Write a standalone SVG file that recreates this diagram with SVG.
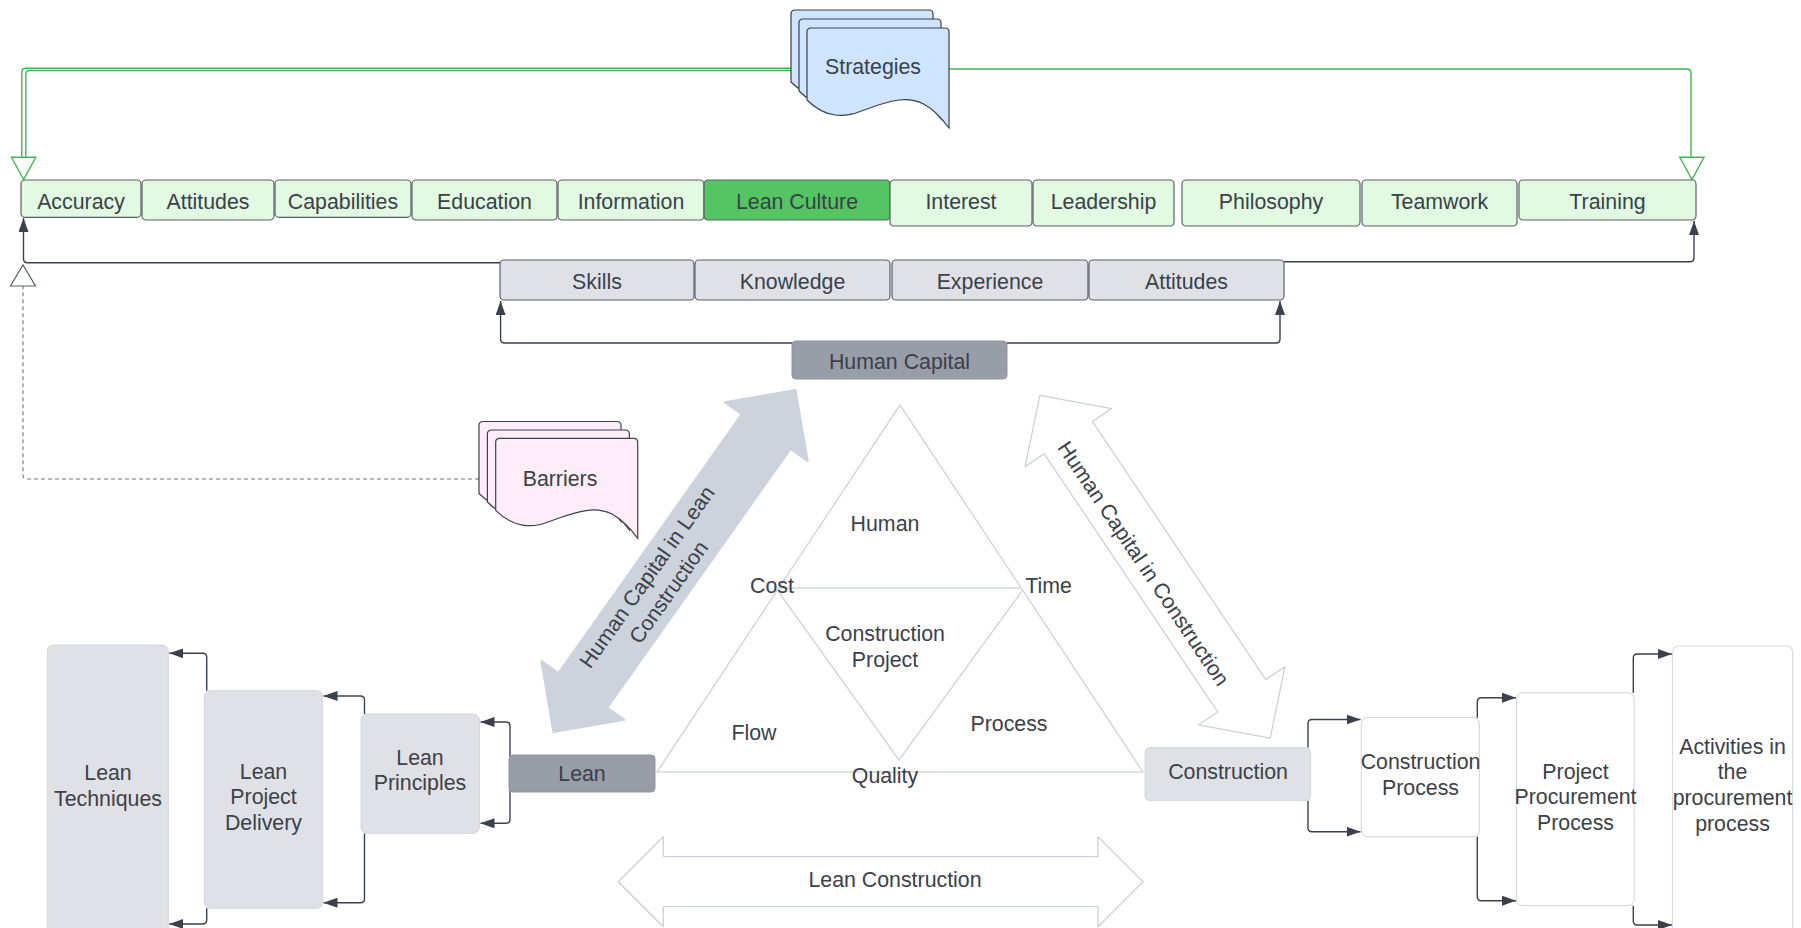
<svg xmlns="http://www.w3.org/2000/svg" width="1801" height="928" viewBox="0 0 1801 928">
  <style>
    .t { font-family: "Liberation Sans", Arial, sans-serif; font-size: 21.33px; fill: #3a414a; text-anchor: middle; }
    .top { fill: #e2f9e2; stroke: #5b6068; stroke-width: 1.2; }
    .hot { fill: #55c462; stroke: #5b6068; stroke-width: 1.2; }
    .hcap { fill: #dfe1e6; stroke: #5b6068; stroke-width: 1.2; }
    .dark { fill: #989da7; stroke: #8e939c; stroke-width: 1; }
    .grey { fill: #dfe1e6; stroke: #d3d6dc; stroke-width: 1; }
    .white { fill: #ffffff; stroke: #d8dbe0; stroke-width: 1.2; }
    .tri { fill: none; stroke: #d3d7de; stroke-width: 1.5; stroke-linejoin: round; }
    .outline { fill: #ffffff; stroke: #cdd1d8; stroke-width: 1.3; stroke-linejoin: round; }
    .wire { fill: none; stroke: #3a414a; stroke-width: 1.4; marker-end: url(#arr); }
    .green { fill: none; stroke: #45b552; stroke-width: 1.4; }
    .gtip { fill: #ffffff; stroke: #45b552; stroke-width: 1.4; }
    .dash { fill: none; stroke: #70767f; stroke-width: 1.1; stroke-dasharray: 4 3; }
    .htip { fill: #ffffff; stroke: #5b6068; stroke-width: 1.2; }
    .doc { stroke: #3a414a; stroke-width: 1.2; }
  </style>
  <defs>
    <marker id="arr" markerUnits="userSpaceOnUse" viewBox="0 0 14 10" refX="14" refY="5" markerWidth="14" markerHeight="10" orient="auto">
      <path d="M0,0 L14,5 L0,10 z" fill="#3a414a"/>
    </marker>
    <!-- document page with wavy bottom edge -->
    <path id="page" d="M0,4 Q0,0 4,0 H138 Q142,0 142,4 V100 C124,76 110,70 92,72 C62,76 50,90 28,87 C14,85 6,78 0,72 Z"/>
  </defs>
  <rect width="1801" height="928" fill="#ffffff"/>

  <!-- connectors -->
  <g id="connectors">
    <!-- strategies to the outer factor boxes -->
    <path class="green" d="M792,68.3 H25.8 Q21.8,68.3 21.8,72.3 V157"/>
    <path class="green" d="M792,70.5 H29.8 Q25.8,70.5 25.8,74.5 V157"/>
    <polygon class="gtip" points="11.5,157.3 35.8,157.3 23.6,179.5"/>
    <path class="green" d="M949,69 H1687 Q1691,69 1691,73 V157.3"/>
    <polygon class="gtip" points="1679.8,157.3 1704,157.3 1692,179.5"/>

    <!-- human capital row up to the factor boxes -->
    <path class="wire" d="M500,262.7 H27.5 Q23.5,262.7 23.5,258.7 V218"/>
    <path class="wire" d="M1284,261.7 H1690 Q1694,261.7 1694,257.7 V221"/>
    <path class="wire" d="M792,343 H504.6 Q500.6,343 500.6,339 V301"/>
    <path class="wire" d="M1007,343 H1276 Q1280,343 1280,339 V301"/>

    <!-- barriers -->
    <path class="dash" d="M479,479 H27 Q23,479 23,475 V286"/>
    <polygon class="htip" points="10.5,286 35.5,286 23,265"/>

    <!-- lean chain -->
    <path class="wire" d="M510,760 V726 Q510,722 506,722 H480.5"/>
    <path class="wire" d="M510,790 V819.3 Q510,823.3 506,823.3 H480.5"/>
    <path class="wire" d="M364.5,714 V700 Q364.5,696 360.5,696 H323.5"/>
    <path class="wire" d="M364.5,833.3 V898.7 Q364.5,902.7 360.5,902.7 H323.5"/>
    <path class="wire" d="M206.7,690.7 V657.3 Q206.7,653.3 202.7,653.3 H169.3"/>
    <path class="wire" d="M206.7,908.3 V920 Q206.7,924 202.7,924 H169.3"/>

    <!-- construction chain -->
    <path class="wire" d="M1308,747.7 V723.5 Q1308,719.5 1312,719.5 H1360.5"/>
    <path class="wire" d="M1308,800.7 V827.7 Q1308,831.7 1312,831.7 H1360.5"/>
    <path class="wire" d="M1477.3,717.7 V701.7 Q1477.3,697.7 1481.3,697.7 H1516"/>
    <path class="wire" d="M1477.3,836.7 V896.7 Q1477.3,900.7 1481.3,900.7 H1516"/>
    <path class="wire" d="M1633.3,692.7 V658 Q1633.3,654 1637.3,654 H1672"/>
    <path class="wire" d="M1633.3,905.7 V921 Q1633.3,925 1637.3,925 H1672"/>
  </g>

  <!-- strategies stack -->
  <g id="strategies">
    <use href="#page" x="791" y="10" fill="#cfe4ff" class="doc"/>
    <use href="#page" x="799" y="19" fill="#cfe4ff" class="doc"/>
    <use href="#page" x="807" y="28" fill="#cfe4ff" class="doc"/>
    <text class="t" x="873" y="74">Strategies</text>
  </g>

  <!-- factor boxes -->
  <g id="accuracy"><rect class="top" x="21" y="180" width="120" height="37.3" rx="4"/><text class="t" x="81" y="209">Accuracy</text></g>
  <g id="attitudes-top"><rect class="top" x="142" y="180" width="132" height="40" rx="4"/><text class="t" x="208" y="209">Attitudes</text></g>
  <g id="capabilities"><rect class="top" x="275" y="180" width="136" height="37.3" rx="4"/><text class="t" x="343" y="209">Capabilities</text></g>
  <g id="education"><rect class="top" x="412" y="180" width="145" height="40" rx="4"/><text class="t" x="484.5" y="209">Education</text></g>
  <g id="information"><rect class="top" x="558" y="180" width="146" height="40" rx="4"/><text class="t" x="631" y="209">Information</text></g>
  <g id="lean-culture"><rect class="hot" x="704" y="180" width="186" height="40" rx="4"/><text class="t" x="797" y="209">Lean Culture</text></g>
  <g id="interest"><rect class="top" x="890" y="180" width="142" height="46" rx="4"/><text class="t" x="961" y="209">Interest</text></g>
  <g id="leadership"><rect class="top" x="1033" y="180" width="141" height="46" rx="4"/><text class="t" x="1103.5" y="209">Leadership</text></g>
  <g id="philosophy"><rect class="top" x="1182" y="180" width="178" height="46" rx="4"/><text class="t" x="1271" y="209">Philosophy</text></g>
  <g id="teamwork"><rect class="top" x="1362" y="180" width="155" height="46" rx="4"/><text class="t" x="1439.5" y="209">Teamwork</text></g>
  <g id="training"><rect class="top" x="1519" y="180" width="177" height="40" rx="4"/><text class="t" x="1607.5" y="209">Training</text></g>

  <!-- human capital components -->
  <g id="skills"><rect class="hcap" x="500" y="260" width="194" height="40" rx="4"/><text class="t" x="597" y="289">Skills</text></g>
  <g id="knowledge"><rect class="hcap" x="695" y="260" width="195" height="40" rx="4"/><text class="t" x="792.5" y="289">Knowledge</text></g>
  <g id="experience"><rect class="hcap" x="892" y="260" width="196" height="40" rx="4"/><text class="t" x="990" y="289">Experience</text></g>
  <g id="attitudes"><rect class="hcap" x="1089" y="260" width="195" height="40" rx="4"/><text class="t" x="1186.5" y="289">Attitudes</text></g>

  <g id="human-capital"><rect class="dark" x="792" y="341" width="215" height="38" rx="4"/><text class="t" x="899.5" y="369">Human Capital</text></g>

  <!-- barriers stack -->
  <g id="barriers">
    <use href="#page" x="479" y="421.5" fill="#ffeefa" class="doc"/>
    <use href="#page" x="487.4" y="430" fill="#ffeefa" class="doc"/>
    <use href="#page" x="495.7" y="438.3" fill="#ffeefa" class="doc"/>
    <text class="t" x="560" y="486">Barriers</text>
  </g>

  <!-- human capital in lean construction -->
  <g id="hc-lean" transform="translate(674.5,561) rotate(-54.7)">
    <path d="M209.5,0 L158.5,-51 L158.5,-30 L-158.5,-30 L-158.5,-51 L-209.5,0 L-158.5,51 L-158.5,30 L158.5,30 L158.5,51 Z" fill="#cdd3dc" stroke="#cdd3dc" stroke-width="2" stroke-linejoin="round"/>
    <text class="t" x="-29" y="-6">Human Capital in Lean</text>
    <text class="t" x="-29" y="20.5">Construction</text>
  </g>

  <!-- human capital in construction -->
  <g id="hc-construction" transform="translate(1155,566.7) rotate(56.1)">
    <path class="outline" d="M206.5,0 L155.5,-52 L155.5,-29 L-155.5,-29 L-155.5,-52 L-206.5,0 L-155.5,52 L-155.5,29 L155.5,29 L155.5,52 Z"/>
    <text class="t" x="-9" y="15">Human Capital in Construction</text>
  </g>

  <!-- construction project triangle -->
  <g id="project-triangle">
    <path class="tri" d="M900,405 L657,772 L1143,772 Z"/>
    <path class="tri" d="M778,588 H1022"/>
    <path class="tri" d="M778,591 L899,760 L1022,591"/>
    <text class="t" x="885" y="530.5">Human</text>
    <text class="t" x="772" y="593">Cost</text>
    <text class="t" x="1048.5" y="593">Time</text>
    <text class="t" x="885" y="640.5">Construction</text>
    <text class="t" x="885" y="666.5">Project</text>
    <text class="t" x="754" y="739.5">Flow</text>
    <text class="t" x="1009" y="730.5">Process</text>
    <text class="t" x="885" y="782.5">Quality</text>
  </g>

  <!-- lean construction -->
  <g id="lean-construction">
    <path class="outline" d="M618.3,881.7 L663.3,836.7 L663.3,856.7 L1098,856.7 L1098,836.7 L1143,881.7 L1098,926.7 L1098,906.7 L663.3,906.7 L663.3,926.7 Z"/>
    <text class="t" x="895" y="886.5">Lean Construction</text>
  </g>

  <!-- lean side -->
  <g id="lean"><rect class="dark" x="509" y="755" width="146" height="37" rx="4"/><text class="t" x="582" y="780.5">Lean</text></g>
  <g id="lean-principles"><rect class="grey" x="361" y="714" width="118.3" height="119.3" rx="6"/><text class="t" x="420" y="765">Lean</text><text class="t" x="420" y="790">Principles</text></g>
  <g id="lean-project-delivery"><rect class="grey" x="204.3" y="690.7" width="118.4" height="217.6" rx="6"/><text class="t" x="263.5" y="778.5">Lean</text><text class="t" x="263.5" y="804">Project</text><text class="t" x="263.5" y="830">Delivery</text></g>
  <g id="lean-techniques"><rect class="grey" x="47.3" y="645" width="121" height="300" rx="6"/><text class="t" x="108" y="780">Lean</text><text class="t" x="108" y="806">Techniques</text></g>

  <!-- construction side -->
  <g id="construction"><rect class="grey" x="1145" y="747.7" width="165.7" height="53" rx="5"/><text class="t" x="1228" y="779">Construction</text></g>
  <g id="construction-process"><rect class="white" x="1361.3" y="717.7" width="118.1" height="119" rx="6"/><text class="t" x="1420.5" y="769">Construction</text><text class="t" x="1420.5" y="795">Process</text></g>
  <g id="project-procurement"><rect class="white" x="1516.5" y="692.7" width="117.6" height="213" rx="6"/><text class="t" x="1575.5" y="778.5">Project</text><text class="t" x="1575.5" y="804">Procurement</text><text class="t" x="1575.5" y="830">Process</text></g>
  <g id="procurement-activities"><rect class="white" x="1672.5" y="646" width="120.1" height="300" rx="6"/><text class="t" x="1732.5" y="753.5">Activities in</text><text class="t" x="1732.5" y="779">the</text><text class="t" x="1732.5" y="805">procurement</text><text class="t" x="1732.5" y="831">process</text></g>
</svg>
